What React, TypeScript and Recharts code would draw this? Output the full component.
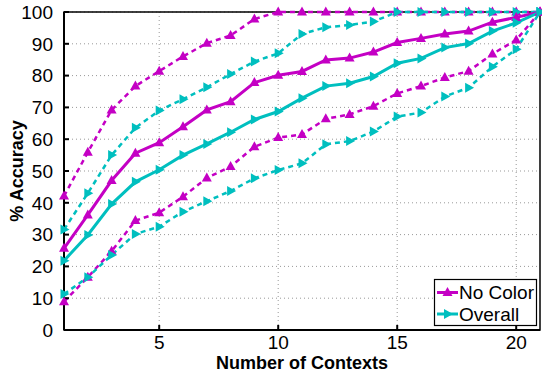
import { CartesianGrid, Legend, Line, LineChart, ReferenceArea, XAxis, YAxis } from 'recharts';

const contexts = [1, 2, 3, 4, 5, 6, 7, 8, 9, 10, 11, 12, 13, 14, 15, 16, 17, 18, 19, 20, 21];
const noColor = [25.7, 36.2, 47, 55.6, 58.9, 63.9, 69.2, 71.8, 77.8, 80.1, 81.3, 84.9, 85.5, 87.4, 90.4, 91.7, 93.1, 94, 96.8, 98.3, 100];
const noColorHigh = [42.1, 55.9, 69.2, 76.7, 81.4, 86, 90.2, 92.6, 97.8, 100, 100, 100, 100, 100, 100, 100, 100, 100, 100, 100, 100];
const noColorLow = [8.9, 16.6, 24.8, 34.4, 36.9, 41.9, 47.8, 51.4, 57.6, 60.5, 61.5, 66.4, 67.8, 70.4, 74.4, 76.7, 79.4, 81.4, 86.8, 91.2, 100];
const overall = [21.8, 29.9, 39.6, 46.6, 50.4, 55, 58.5, 62.2, 66.2, 68.7, 72.9, 76.7, 77.6, 79.7, 83.9, 85.4, 88.8, 90.1, 94, 96.6, 100];
const overallHigh = [31.6, 43, 55, 63.6, 69, 72.6, 76.3, 80.5, 84.4, 87, 93.1, 95.2, 95.9, 97, 100, 100, 100, 100, 100, 100, 100];
const overallLow = [11.3, 16.6, 23.6, 30.2, 32.5, 37.2, 40.5, 43.7, 47.7, 50.3, 52.4, 58.4, 59.4, 62.4, 67.1, 68.4, 73.4, 76.2, 82.8, 88.3, 100];

const xTicks = [5, 10, 15, 20];
const yTicks = [0, 10, 20, 30, 40, 50, 60, 70, 80, 90, 100];

const MAGENTA = '#c400c4';
const CYAN = '#00bfbf';
const FONT = '"Liberation Sans", Arial, sans-serif';

const data = contexts.map((n, i) => ({
  n,
  noColor: noColor[i],
  noColorHigh: noColorHigh[i],
  noColorLow: noColorLow[i],
  overall: overall[i],
  overallHigh: overallHigh[i],
  overallLow: overallLow[i],
}));

function UpTri({ cx, cy, color }: { cx: number; cy: number; color: string }) {
  return <polygon points={`${cx},${cy - 5.5} ${cx - 5},${cy + 3.5} ${cx + 5},${cy + 3.5}`} fill={color} />;
}

function RightTri({ cx, cy, color }: { cx: number; cy: number; color: string }) {
  return <polygon points={`${cx + 5.5},${cy} ${cx - 3.5},${cy - 5} ${cx - 3.5},${cy + 5}`} fill={color} />;
}

const upDot = (color: string) => (p: any) =>
  p.cx == null ? <g key={`${p.dataKey}-${p.index}`} /> : <UpTri key={`${p.dataKey}-${p.index}`} cx={p.cx} cy={p.cy} color={color} />;
const rightDot = (color: string) => (p: any) =>
  p.cx == null ? <g key={`${p.dataKey}-${p.index}`} /> : <RightTri key={`${p.dataKey}-${p.index}`} cx={p.cx} cy={p.cy} color={color} />;

function LegendBox() {
  return (
    <svg width={104} height={48} style={{ display: 'block', overflow: 'visible' }}>
      <rect x={0.5} y={0.5} width={102} height={46} fill="#fff" stroke="#000" strokeWidth={1.2} />
      <line x1={3} x2={24} y1={13.5} y2={13.5} stroke={MAGENTA} strokeWidth={3} />
      <UpTri cx={13.5} cy={13.5} color={MAGENTA} />
      <text x={25} y={20} fontFamily={FONT} fontSize={19}>No Color</text>
      <line x1={3} x2={24} y1={35} y2={35} stroke={CYAN} strokeWidth={3} />
      <RightTri cx={13.5} cy={35} color={CYAN} />
      <text x={25} y={41.5} fontFamily={FONT} fontSize={19}>Overall</text>
    </svg>
  );
}

const tickStyle = { fill: '#000', fontSize: 19, fontFamily: FONT };

function App() {
  return (
    <div style={{ position: 'absolute', left: 0, top: 0, background: '#fff' }}>
      <LineChart width={542} height={374} data={data} margin={{ top: 12, right: 2, bottom: 0, left: 0 }}>
        <CartesianGrid stroke="#999" strokeDasharray="1 3" horizontalValues={yTicks} verticalValues={xTicks} />
        <XAxis
          dataKey="n"
          type="number"
          domain={[1, 21]}
          ticks={xTicks}
          height={44}
          stroke="#000"
          strokeWidth={2}
          tickSize={-5}
          tickMargin={11}
          tick={tickStyle}
          label={{ value: 'Number of Contexts', position: 'insideBottom', offset: 5, fill: '#000', fontSize: 18, fontWeight: 'bold', fontFamily: FONT }}
        />
        <XAxis xAxisId="top" orientation="top" type="number" domain={[1, 21]} ticks={xTicks} height={0} stroke="#000" strokeWidth={1.5} tickSize={-5} tick={false} />
        <YAxis
          type="number"
          domain={[0, 100]}
          ticks={yTicks}
          width={64}
          stroke="#000"
          strokeWidth={2}
          tickSize={-5}
          tickMargin={16}
          tick={tickStyle}
          label={{ value: '% Accuracy', angle: -90, position: 'center', dx: -15, fill: '#000', fontSize: 18, fontWeight: 'bold', fontFamily: FONT }}
        />
        <YAxis yAxisId="right" orientation="right" type="number" domain={[0, 100]} ticks={yTicks} width={0} stroke="#000" strokeWidth={1.5} tickSize={-5} tick={false} />
        <ReferenceArea x1={1} x2={21} y1={0} y2={100} fill="none" stroke="#000" strokeWidth={1.5} ifOverflow="visible" />
        <Line dataKey="noColorLow" stroke={MAGENTA} strokeWidth={2.5} strokeDasharray="5 4" dot={upDot(MAGENTA)} isAnimationActive={false} legendType="none" />
        <Line dataKey="overallLow" stroke={CYAN} strokeWidth={2.5} strokeDasharray="5 4" dot={rightDot(CYAN)} isAnimationActive={false} legendType="none" />
        <Line dataKey="noColorHigh" stroke={MAGENTA} strokeWidth={2.5} strokeDasharray="5 4" dot={upDot(MAGENTA)} isAnimationActive={false} legendType="none" />
        <Line dataKey="overallHigh" stroke={CYAN} strokeWidth={2.5} strokeDasharray="5 4" dot={rightDot(CYAN)} isAnimationActive={false} legendType="none" />
        <Line dataKey="noColor" name="No Color" stroke={MAGENTA} strokeWidth={3} dot={upDot(MAGENTA)} isAnimationActive={false} />
        <Line dataKey="overall" name="Overall" stroke={CYAN} strokeWidth={3} dot={rightDot(CYAN)} isAnimationActive={false} />
        <Legend content={<LegendBox />} wrapperStyle={{ left: 434, top: 279, width: 0, height: 0, overflow: 'visible' }} />
      </LineChart>
    </div>
  );
}

export default App;
